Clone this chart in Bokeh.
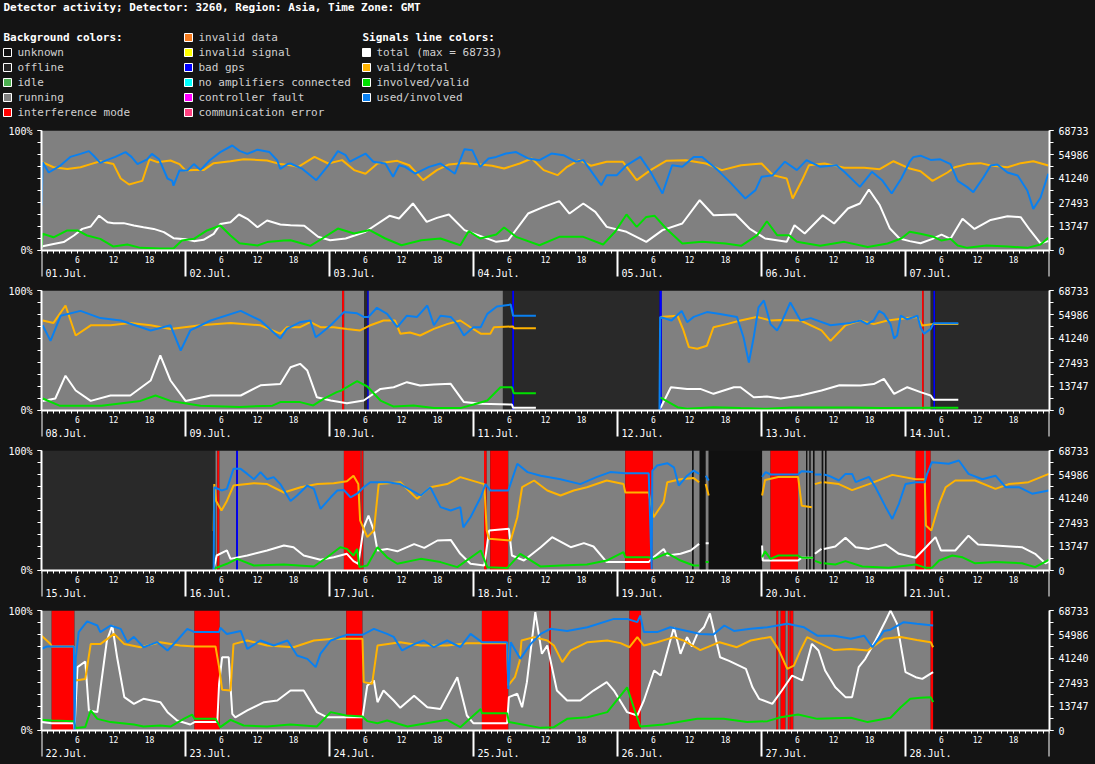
import math
from bokeh.plotting import figure
from bokeh.layouts import column
from bokeh.models import Range1d, LinearAxis, FixedTicker
from bokeh.embed import file_html
from bokeh.resources import INLINE
from bokeh.core.properties import value

# ---------------------------------------------------------------- data
TITLE = "Detector activity; Detector: 3260, Region: Asia, Time Zone: GMT"
TOTAL_MAX = 68733
total_ticks = [0, 13747, 27493, 41240, 54986, 68733]
hour_labels = [6, 12, 18]
panel_days = [
    ["01.Jul.", "02.Jul.", "03.Jul.", "04.Jul.", "05.Jul.", "06.Jul.", "07.Jul."],
    ["08.Jul.", "09.Jul.", "10.Jul.", "11.Jul.", "12.Jul.", "13.Jul.", "14.Jul."],
    ["15.Jul.", "16.Jul.", "17.Jul.", "18.Jul.", "19.Jul.", "20.Jul.", "21.Jul."],
    ["22.Jul.", "23.Jul.", "24.Jul.", "25.Jul.", "26.Jul.", "27.Jul.", "28.Jul."],
]

bg_legend = ["unknown", "offline", "idle", "running", "interference mode",
             "invalid data", "invalid signal", "bad gps", "no amplifiers connected",
             "controller fault", "communication error"]
bg_legend_colors = ["#111111", "#262626", "#4caf50", "#808080", "#ff0000",
                    "#f57c1f", "#ffff00", "#0000ff", "#00ffff", "#ff00ff", "#ff4081"]
line_legend = ["total (max = 68733)", "valid/total", "involved/valid", "used/involved"]
line_colors = ["#ffffff", "#ffb300", "#00e000", "#0a80f0"]

# background states per panel: start hour, end hour, state
p1_bg_start = [0]
p1_bg_end = [168]
p1_bg_state = ["running"]

p2_bg_start = [0, 50.1, 50.45, 53.8, 54.3, 54.55, 76.9, 78.45, 78.75, 103.0, 103.4, 146.75, 147.05, 148.2, 148.65, 148.95]
p2_bg_end = [50.1, 50.45, 53.8, 54.3, 54.55, 76.9, 78.45, 78.75, 103.0, 103.4, 146.75, 147.05, 148.2, 148.65, 148.95, 168]
p2_bg_state = ["running", "interference mode", "running", "offline", "bad gps", "running", "offline", "bad gps",
               "offline", "bad gps", "running", "interference mode", "running", "offline", "bad gps", "offline"]

p3_bg_start = [0, 29.0, 29.3, 29.65, 32.45, 32.75, 50.4, 53.2, 53.35, 53.65, 73.75, 74.2, 74.8, 77.8, 97.3, 101.9,
               108.45, 108.7, 109.7, 110.7, 111.2, 120.1, 121.5, 126.1, 127.45, 127.65, 128.0, 128.2, 128.6,
               128.85, 130.05, 130.3, 130.6, 130.85, 145.7, 147.1, 147.4, 148.2]
p3_bg_end = [29.0, 29.3, 29.65, 32.45, 32.75, 50.4, 53.2, 53.35, 53.65, 73.75, 74.2, 74.8, 77.8, 97.3, 101.9, 108.45,
             108.7, 109.7, 110.7, 111.2, 120.1, 121.5, 126.1, 127.45, 127.65, 128.0, 128.2, 128.6, 128.85,
             130.05, 130.3, 130.6, 130.85, 145.7, 147.1, 147.4, 148.2, 168]
p3_bg_state = ["offline", "running", "interference mode", "running", "bad gps", "running", "interference mode",
               "running", "interference mode", "running", "interference mode", "running", "interference mode",
               "running", "interference mode", "running", "unknown", "running", "unknown", "running", "unknown",
               "running", "interference mode", "running", "unknown", "running", "unknown", "running", "unknown",
               "running", "unknown", "running", "unknown", "running", "interference mode", "running",
               "interference mode", "running"]

p4_bg_start = [0, 1.7, 5.5, 25.5, 29.7, 50.8, 53.5, 73.4, 77.8, 84.65, 84.9, 98.0, 99.9, 122.5, 122.8, 123.2,
               124.0, 124.4, 124.7, 124.8, 125.3, 148.2]
p4_bg_end = [1.7, 5.5, 25.5, 29.7, 50.8, 53.5, 73.4, 77.8, 84.65, 84.9, 98.0, 99.9, 122.5, 122.8, 123.2, 124.0,
             124.4, 124.7, 124.8, 125.3, 148.2, 148.6]
p4_bg_state = ["running", "interference mode", "running", "interference mode", "running", "interference mode",
               "running", "interference mode", "running", "interference mode", "running", "interference mode",
               "running", "interference mode", "running", "interference mode", "running", "interference mode",
               "running", "interference mode", "running", "interference mode"]

# signal series, (hour, percent) ; total is percent of 68733 ; None = no data
p1_total = [(0, 3.3), (2, 5.5), (3.7, 7), (5.4, 12.5), (6.8, 18), (8.2, 20), (9.6, 29), (11, 23.6), (12, 22.8),
            (13.7, 22.8), (15.4, 20.8), (17, 19.4), (18.7, 18), (20.4, 15.3), (22, 10.3), (24, 9.4), (25.4, 7.8),
            (27, 8.9), (28.7, 13.9), (29.8, 22), (31.5, 23.6), (32.9, 30), (34.3, 26.4), (36, 19.4), (37.6, 25),
            (39.8, 21.7), (41.5, 21), (43.8, 20.6), (46.1, 11.4), (48.1, 8.6), (50.7, 10), (54, 15.6), (58, 28.9),
            (59.6, 26.7), (61.9, 39.2), (64.2, 23.9), (65.9, 27.2), (67.9, 30), (70.5, 17), (73.1, 12.2),
            (75.8, 7.2), (77.8, 8.6), (81.1, 30.8), (83.7, 36.4), (86.3, 41.1), (88, 30.8), (90.3, 39.2),
            (92.3, 32.2), (94.2, 19.7), (97.5, 15.6), (100.8, 7.2), (103.5, 17), (106.8, 22.5), (109.7, 41.9),
            (112, 29.4), (115.7, 30), (118, 18.3), (120.6, 10), (124.2, 7.2), (125.5, 21), (127.2, 14.2),
            (130.2, 29.4), (132.1, 22.5), (134.4, 35), (136.4, 39.2), (137.9, 50.8), (139.7, 37.8), (141.4, 18.3),
            (143, 10), (144.7, 7.8), (146.5, 6), (148.5, 9.7), (150, 13.3), (151.5, 9.7), (153.5, 26.4),
            (155.5, 18), (158.2, 25.5), (161, 28.6), (163.2, 27.8), (164.8, 16.7), (166.5, 6), (167.8, 7.8)]
p1_valid_total = [(0.1, 73.6), (2, 69.4), (4.3, 68), (6.5, 69.4), (8.2, 72), (9.8, 74.4), (12, 72), (13.2, 60),
                  (14.6, 55), (16, 57), (16.8, 58), (18, 76), (19.3, 73.6), (21.5, 75), (23, 72), (24, 66.7),
                  (25.4, 67), (27, 67), (28.7, 72.8), (31.5, 74.4), (33.7, 76), (36, 75.5), (37.6, 75),
                  (39.8, 72), (41.5, 71), (42.8, 69.7), (45.5, 78), (47.8, 72.5), (50.1, 75.3), (52.1, 67),
                  (54, 64), (56, 72.5), (59.3, 74.7), (61.3, 71), (63.6, 58.6), (65.9, 67), (67.9, 71.7),
                  (70.5, 73), (73.1, 71.7), (75.1, 70.6), (77.1, 68.3), (79.7, 72.5), (81.7, 76.7), (83.7, 67),
                  (86, 62.8), (87.6, 69.7), (89.6, 75.3), (91.6, 70.6), (94.2, 73.9), (96.9, 73.9), (99.2, 58.6),
                  (101.5, 67), (104.1, 74.7), (107.4, 75.3), (110.7, 72.5), (113.4, 67), (116.6, 71), (120, 72.5),
                  (121.9, 62.8), (124.2, 60), (125.2, 43.3), (126.9, 60), (127.9, 71), (130.5, 72.5),
                  (133.8, 68.9), (137.1, 68.9), (139.7, 67.8), (142, 74.4), (144.7, 68.3), (146.5, 66),
                  (148.5, 58), (151, 65), (152.2, 69.4), (154.3, 72), (156.5, 72.8), (158.2, 70.8), (161, 69.4),
                  (163.2, 72.8), (165.3, 74.4), (167.8, 70.8)]
p1_involved_valid = [(0, 3), (0.2, 14), (2, 11), (4.3, 16.7), (6, 16.7), (7.6, 12.5), (9.8, 9.7), (12, 3.3),
                     (14.3, 5), (16.5, 2.2), (19.8, 1.7), (22, 1.7), (23.4, 8.3), (25.4, 9.7), (27.6, 16.7),
                     (29.8, 20.8), (31.5, 12.5), (33, 6), (36, 4.2), (37.6, 7), (40.4, 8.3), (41.5, 8.6),
                     (44.8, 3.9), (46.8, 10), (49.4, 18.3), (52.1, 14.2), (54.7, 17), (57.3, 10), (60, 4.4),
                     (63.3, 8.6), (66.5, 10), (69.8, 4.4), (71.2, 16.1), (73.1, 10), (75.8, 13.3), (77.1, 19.2),
                     (79.1, 11.4), (83, 4.4), (86.3, 11.4), (90.3, 11.4), (93.6, 5), (95.6, 15.6), (97.5, 30),
                     (99.2, 19.7), (100.8, 28), (102.2, 28.9), (104.1, 18.3), (106.8, 5.8), (110.1, 7.2),
                     (114, 5.8), (116.6, 3.9), (119.3, 12.8), (120.9, 24.4), (122.6, 12.8), (124.6, 12.8),
                     (125.9, 7.2), (129.8, 3.9), (133.8, 7.2), (137.7, 3), (141, 5.8), (143.3, 10), (144.7, 15.6),
                     (146.5, 13.9), (148.5, 11.7), (150, 8.3), (151.5, 9.7), (152.7, 4.2), (154.3, 2.2),
                     (157.5, 4.2), (161, 3.3), (164.3, 2.2), (166.5, 5), (167.8, 10.6)]
p1_used_involved = [(0, 37.5), (0.2, 73.6), (1.2, 65), (3.2, 71), (4.8, 78), (6.5, 80.5), (7.9, 82.8), (8.7, 79),
                    (9.8, 73), (11, 75.5), (12.3, 78), (14, 82), (15, 78), (16, 72), (17.6, 76), (18.4, 80.5),
                    (19.6, 76), (21, 60), (21.8, 58), (22, 54), (23, 66.7), (24.3, 66.7), (25.4, 72), (26.5, 67),
                    (28, 75), (29.8, 82), (31.8, 87.5), (33, 83), (34.3, 80.5), (36, 84), (38, 82), (39.3, 75),
                    (39.8, 68), (41, 72), (41.5, 72.5), (43.5, 68), (45.8, 58.6), (47.8, 71), (49.4, 82.8),
                    (50.7, 79.4), (51.4, 74), (54, 80.8), (55.3, 74), (57.3, 72.5), (58.6, 61.4), (59.6, 71),
                    (60.6, 69.7), (62.3, 64), (64.6, 69.7), (66.5, 72.5), (68.9, 64), (70.5, 84.4), (71.8, 83.6),
                    (73.1, 69.7), (74.5, 76.7), (75.8, 78), (77.4, 80.8), (79.1, 82), (81.1, 76.7), (83, 75.3),
                    (85, 80.8), (87, 79.4), (89, 74), (90.3, 75.3), (92.3, 61.4), (93.3, 54.4), (94.2, 62.8),
                    (95.9, 62.8), (97.5, 71), (99.8, 78), (101.5, 65.6), (103.5, 47.5), (105.1, 71), (106.8, 69.7),
                    (108.7, 78), (110.1, 78), (112.7, 67), (114.7, 57.2), (117.3, 43.3), (119, 50.3), (120, 61.4),
                    (121.9, 62.8), (123.9, 74), (125.9, 67), (127.5, 75.3), (129.8, 69.7), (132.5, 71),
                    (133.8, 65.6), (136.4, 53), (138.4, 65.6), (140.1, 58.6), (141.7, 47.5), (143.3, 60),
                    (144.7, 74), (145.3, 77.8), (146.5, 79), (148.2, 75.5), (149.8, 76), (151.5, 72), (152.7, 58),
                    (154.3, 52.8), (155.3, 48.6), (157, 61), (158.2, 70.8), (159.3, 71.7), (161, 65), (162.7, 62.5),
                    (164.3, 50), (165.3, 34.7), (166.5, 44), (167.8, 64)]

p2_total = [(0.2, 8), (2.3, 10), (4, 29), (5.7, 16.7), (8.2, 8), (11.5, 12.5), (14.8, 12.5), (18.2, 25), (19.8, 46),
            (21.5, 25), (24, 8), (28.2, 12.5), (33.2, 12.5), (36.5, 21), (39.8, 22), (41.5, 36), (43.1, 38.9),
            (44.3, 33.3), (45.9, 11), (48.2, 8.3), (50.9, 6), (53.7, 8.3), (56.5, 18), (58.7, 19.4), (60.9, 23.6),
            (63.1, 20.8), (65.4, 21.7), (68.2, 22.2), (70.4, 7), (73.2, 5.6), (78.4, 5), (78.6, 2.2), (82.4, 2.2),
            (83, None), (103.1, 1.4), (104.9, 19.4), (107.6, 18), (109.8, 18), (112, 13.9), (115.4, 19.4),
            (116.5, 19.4), (118.7, 11), (120.9, 11.7), (123.2, 10), (126.5, 12.5), (130, 16.7), (133, 21),
            (136.5, 20.8), (138.7, 22), (140.4, 26.4), (142.1, 13.9), (144.3, 19.4), (146.5, 15.3),
            (148.2, 12.5), (148.7, 8.9), (152.8, 8.9)]
p2_valid_total = [(0.2, 75), (2, 73), (4, 87.5), (5.7, 62.5), (8.2, 71), (11.5, 71), (14.8, 73), (18.2, 71),
                  (21.5, 68), (26.5, 71), (31.5, 73), (36.5, 71), (39.8, 64), (40.9, 69.4), (43.1, 69.4),
                  (44.8, 73.6), (46.5, 69.4), (48.7, 69.4), (50.9, 68), (53.1, 66.7), (54.7, 70.8), (57, 75),
                  (58.9, 75), (59.8, 64), (61.4, 65), (63.1, 62.5), (65.4, 68), (67.6, 72), (69.8, 75),
                  (71.5, 69.4), (73.2, 64), (74.8, 64), (75.4, 69.4), (78.6, 70), (78.7, 68.6), (82.4, 68.6),
                  (83, None), (103.1, 78), (106, 79), (107, 66.7), (107.9, 52.8), (109.3, 51.4), (110.9, 54),
                  (112, 69.4), (114.2, 72), (116.5, 75), (119.2, 78), (121.5, 75), (123.2, 75.5), (126.5, 75),
                  (130, 66.7), (131.5, 58), (134, 71), (136.5, 75), (138.7, 72), (141, 75), (144.3, 77), (146, 78),
                  (146.8, 70.8), (148.7, 72), (152.8, 72)]
p2_involved_valid = [(0.2, 10), (3, 4), (10, 4), (16.5, 8), (19, 12.5), (21.5, 8), (26.5, 4), (33, 3),
                     (38.5, 4), (39.8, 7), (43.1, 7), (45.3, 4.2), (47, 9.7), (49.2, 15.3), (50, 16.7),
                     (52.6, 24.4), (54.3, 20), (56.5, 8.3), (58.7, 3.3), (62, 4.2), (65.4, 2), (69.8, 2), (72, 5),
                     (74.3, 8.3), (76.5, 19.4), (78.4, 19.4), (78.7, 14.4), (82.4, 14.4), (83, None),
                     (103.1, 11), (106, 2.8), (107.6, 1.4), (112, 2.8), (116.5, 2), (121, 1.4), (125, 2.5),
                     (135, 2.5), (140, 2), (148.7, 2.2), (152.8, 2.2)]
p2_used_involved = [(0.2, 71), (1.5, 58), (3.2, 79), (6.5, 83), (9.8, 77), (13.2, 75), (18.2, 66.7), (21.5, 71),
                    (23.2, 50), (24.8, 66.7), (28.2, 75), (33.2, 83), (36.5, 75), (39.8, 60), (40.9, 68),
                    (43.1, 73.6), (44.8, 75), (45.7, 61), (46.5, 64), (48.2, 71), (50.4, 82), (52.6, 81),
                    (53.7, 78), (54.5, 78), (55.9, 85.6), (57.6, 80.5), (59.3, 69.4), (60.9, 79), (62.6, 78),
                    (64.3, 87.5), (65.4, 71), (66.5, 79), (68.2, 78), (69.3, 72), (70.4, 62.5), (72, 69.4),
                    (73.2, 69.4), (74.3, 80.5), (75.9, 86.7), (78.2, 88.3), (78.6, 79), (82.4, 79), (83, None),
                    (103.0, 0), (103.1, 78), (105, 75), (106.7, 83), (107.6, 73.6), (108.7, 78), (110.9, 82),
                    (113.1, 80.5), (115.9, 78), (117, 61), (117.9, 40), (118.7, 61), (119.5, 86), (120.4, 91.7),
                    (121.5, 72), (122.6, 66.7), (123.2, 72), (124.8, 90), (126.5, 75), (128.2, 77), (131.5, 71),
                    (134.8, 73), (136.5, 75), (137.6, 72), (138.7, 75), (139.6, 83), (140.4, 80.5), (141.5, 72),
                    (142.1, 60), (142.6, 62.5), (143.2, 79), (144.3, 76), (146, 79), (146.5, 69.4), (147.1, 64),
                    (148.2, 68), (148.7, 72.8), (152.8, 72.8)]

p3_total = [(28.7, 1.4), (29.2, 12.5), (30.9, 16.7), (31.5, 9.7), (34.3, 12.5), (37.6, 16.7), (40.4, 20.8),
            (42, 19.4), (43.7, 12.5), (46.5, 8.9), (48.7, 11), (50.9, 13.9), (52, 7.8), (52.8, 5.6), (53.7, 36),
            (54.5, 45.8), (55.4, 33.3), (56, 16.7), (57.6, 18), (59.3, 16), (62.1, 22), (63.8, 18.9), (66, 25),
            (68.2, 25.5), (69.8, 13.9), (71.5, 5.6), (73.8, 4.2), (74.6, 33.3), (77.9, 34.7), (78.4, 12.5),
            (80.4, 8.3), (83.2, 19.4), (85.1, 27.8), (88.2, 19.4), (90.4, 22.8), (92, 20), (94.2, 7), (97.3, 7),
            (101.2, 7), (102, 11), (103.7, 18), (104.3, 12.5), (106.5, 13.9), (108.2, 16.7), (109.6, 22.2),
            (110.1, None), (110.7, 22.8), (111.2, 22.8), (115, None), (120.1, 20.8), (120.2, 8.3), (126.1, 8.3),
            (126.7, 10.6), (128.6, 10.6), (128.75, None), (128.9, 13.9), (130, 18), (130.2, None), (130.4, 18),
            (132.3, 20), (134, 27.2), (135.7, 19.4), (137.9, 18), (140.7, 21.7), (142.9, 13.9), (145.7, 10.6),
            (147.4, 19.4), (149, 27.8), (149.9, 16.7), (152.3, 16.7), (154.5, 29), (156.1, 21.7), (159, 20.8),
            (163.4, 19.4), (165.6, 13.9), (167.3, 6), (168, 7.8)]
p3_valid_total = [(28.7, 33), (28.8, 72), (29.1, 58), (30, 50), (30.9, 58), (32, 70.8), (35.4, 72.8), (37.6, 72),
                  (40.4, 65), (43.2, 69.4), (46, 72), (48.7, 72.8), (50.9, 74.4), (52, 79), (52.8, 72),
                  (53.1, 41.7), (54.3, 27.8), (55.4, 33.3), (56.2, 72), (59.8, 73.6), (62.6, 59.7), (64.8, 69.4),
                  (67.6, 72), (69.8, 77.8), (73.2, 72.8), (73.8, 72), (74.2, 33.3), (74.6, 26.4), (78.2, 25),
                  (79.3, 44.4), (80.1, 69.4), (82.1, 75), (84.3, 66.7), (86.5, 62.5), (88.7, 66.7), (90.9, 69.4),
                  (94.2, 75), (97, 72), (97.3, 65), (101.2, 65), (102, 44.4), (103.7, 57), (104.3, 73.6),
                  (106.5, 76), (108.7, 77), (109.6, 73.6), (110.1, None), (110.7, 72), (111.2, 62.5), (115, None),
                  (120.1, 62.5), (120.6, 75.5), (122.8, 78), (126.1, 78), (126.7, 54), (128.4, 52.8),
                  (128.75, None), (128.9, 72), (130, 73.6), (130.2, None), (130.4, 73.6), (132.9, 72), (135.1, 67),
                  (137.9, 72), (141.8, 79.7), (145.7, 76), (147.2, 76), (147.4, 37.5), (148.3, 33.3),
                  (149.6, 55.6), (150.7, 69.4), (152.3, 75), (155.6, 75), (159, 68), (161.2, 72), (164.5, 73.6),
                  (167.9, 80.5)]
p3_involved_valid = [(28.7, 1.4), (30.9, 5.6), (32.6, 9.7), (35.4, 4.2), (40.4, 5), (45.4, 3.3), (47.6, 11),
                     (49.8, 19.4), (50.9, 18), (52, 12.5), (52.6, 18), (53, 2.8), (54.3, 4.2), (56, 19.4),
                     (57.6, 11), (59.3, 5.6), (63.2, 9.7), (66.5, 7), (69.3, 2.8), (73.2, 16.7), (74.3, 2.8),
                     (77.6, 2), (79.8, 13.9), (83.2, 3.3), (86.5, 4.2), (90.9, 5), (94.2, 8.3), (97, 15.3),
                     (97.3, 11), (101.2, 11), (102, 9.7), (104.3, 14.4), (106.5, 8.3), (108.7, 4.2), (109.6, 4.2),
                     (110.1, None), (110.7, 7), (111.2, 7), (115, None), (120.1, 11), (120.6, 16), (121.5, 9.7),
                     (122.8, 12.5), (126.1, 12.5), (126.7, 10.6), (128.6, 10.6), (128.75, None), (128.9, 8),
                     (130, 6), (130.2, None), (130.4, 6), (132.3, 5), (134, 7.8), (136.8, 3.3), (141.2, 2.2),
                     (145.7, 5), (147.4, 2.2), (148.4, 2.2), (149.6, 8.3), (151.8, 12.5), (153.5, 11),
                     (155.6, 6), (159, 7), (163.4, 6), (165.6, 2.8), (167.9, 8.9)]
p3_used_involved = [(28.7, 0), (28.8, 69.4), (30, 66.7), (30.9, 68), (32, 84.7), (33.2, 84.7), (34.3, 80.5),
                    (35.4, 76), (36.5, 82), (37.6, 76), (38.7, 77.8), (39.8, 72), (41.5, 58), (42.6, 62.5),
                    (44.3, 70.8), (45.4, 68), (46.5, 51.4), (48.2, 61), (49.3, 66.7), (50.4, 67), (51.5, 61),
                    (52.6, 64), (53.7, 69.4), (54.8, 73.6), (57.6, 73.6), (59.8, 72), (63.2, 62.5), (64.8, 69.4),
                    (66.5, 52.8), (68.2, 50), (69.8, 52.8), (70.3, 36), (71.5, 44.4), (73.2, 61), (74, 72),
                    (74.8, 66.7), (77.8, 66.7), (79.3, 88.9), (81, 82), (83.2, 79), (86.5, 76), (89.8, 72),
                    (92.6, 78), (94.8, 82), (97.3, 81), (101.2, 81), (101.7, 1), (101.8, 83), (102.6, 87.5),
                    (104.3, 89.4), (105.4, 86), (106.2, 70.8), (107.6, 79), (108.7, 83.3), (109.6, 80.5),
                    (110.1, None), (110.7, 79), (111.2, 75), (115, None), (120.1, 78), (120.7, 82), (121.5, 80),
                    (126.1, 80), (126.7, 82.8), (128.6, 82), (128.75, None), (128.9, 80), (130, 80),
                    (130.2, None), (130.4, 80), (131.2, 79), (132.9, 75), (134, 80.5), (135.1, 80.5),
                    (135.7, 73.6), (137.9, 78), (139, 69.4), (140.7, 52.8), (141.8, 43), (142.9, 55.6),
                    (144, 72), (145.7, 73.6), (147.2, 73.6), (147.6, 80.5), (148.4, 90.3), (151.2, 88.9),
                    (152.9, 91.7), (154.5, 80.5), (156.8, 76), (159, 79), (160.7, 69.4), (162.9, 69.4),
                    (165.1, 64), (167.9, 66.7)]

p4_total = [(0, 7), (1.7, 6.1), (5.4, 6.1), (5.5, 1.4), (6, 52.8), (7.3, 57.5), (7.9, 16.7), (9.3, 15.3),
            (10.9, 75), (11.8, 87.5), (12.6, 61), (13.8, 27.8), (15.4, 22.2), (17, 26.4), (19.8, 23.6), (21, 15.3),
            (22.6, 8.3), (24.8, 5), (25.5, 7), (29.3, 7), (29.6, 38.9), (30.1, 61), (31.2, 61), (31.8, 13.9),
            (32.3, 11), (34.3, 16.7), (37.1, 23.6), (39.3, 25), (41.5, 33.3), (43.7, 33.3), (45.9, 15.3),
            (47.6, 11), (53.5, 11), (54.3, 37.5), (55.4, 41.7), (56, 23.6), (57, 33.3), (58.7, 25), (59.8, 18.9),
            (62.1, 29), (64.3, 19.4), (66.5, 18), (69.3, 44.4), (70.9, 12.5), (72, 6), (77.6, 6), (77.9, 27.8),
            (79.3, 30.6), (80.1, 19.4), (80.9, 40.3), (82.3, 98.6), (83.4, 63.9), (84.3, 70.8), (85.9, 33.3),
            (87.6, 25), (89.8, 25), (92, 33.3), (94.2, 40.3), (95.4, 33.3), (97.6, 15.3), (99.3, 12.5),
            (100.4, 25), (102.1, 50), (103.2, 45.8), (105.4, 86), (106.5, 63.9), (107.6, 77.8), (108.4, 70),
            (109.3, 80.5), (110.4, 86), (111.4, 97.5), (113.1, 61), (114.6, 58), (117.4, 51.4), (118.5, 36),
            (119.6, 26.4), (121.8, 22.2), (123.4, 33.3), (125.1, 45.8), (126.8, 41.7), (128.4, 72.2),
            (129.5, 66.7), (130.6, 50), (132.3, 36), (134, 27.8), (135.1, 27.8), (136.2, 52.8), (137.3, 59.7),
            (139, 75), (140.7, 91.7), (141.5, 100), (142.6, 88.9), (144, 48.6), (145.7, 44.4), (146.8, 43),
            (148.6, 48.6)]
p4_valid_total = [(0, 79), (1.5, 72), (1.7, 70), (5.4, 70), (5.7, 41.7), (7.3, 43), (8.2, 72), (9.8, 72),
                  (12.1, 80.5), (13.8, 72), (16.5, 69.4), (19.8, 73.6), (23.1, 70.8), (25.5, 70), (29, 70),
                  (29.6, 52.8), (30.1, 34), (31.5, 33.3), (32, 72), (34.3, 75), (37.6, 70.8), (42, 69.4),
                  (45.4, 75), (48.7, 76.4), (53.5, 76.4), (53.7, 40.3), (55.1, 38.9), (56, 70.8), (59.8, 73.6),
                  (63.2, 70.8), (67.6, 70.8), (70.9, 72.8), (77.6, 72.8), (77.8, 37.5), (78.9, 44.4), (79.7, 58),
                  (80, 75), (82.1, 77.8), (84.3, 75), (85.4, 70.8), (86.8, 57), (88.2, 66.7), (91, 73.6),
                  (94.3, 75), (96.5, 72.8), (98, 69.4), (99.3, 77.8), (100.4, 70.8), (102.6, 73.6), (105.4, 77.8),
                  (107, 75), (109.8, 67), (113, 73.6), (115.9, 69.4), (118.2, 75), (121.5, 78), (122.9, 67),
                  (124.3, 51.4), (125.4, 54), (126.5, 66.7), (127.6, 77.8), (129.3, 73.6), (132.1, 67),
                  (134.9, 68), (137.7, 66.7), (140.4, 76.4), (143.2, 78), (145.9, 75.5), (148.2, 73.6),
                  (148.6, 69.4)]
p4_involved_valid = [(0, 8.9), (1.7, 8.3), (5.4, 7.8), (5.7, 2), (7.3, 3), (8.2, 16.7), (9.3, 9.7), (11.5, 7),
                     (15.4, 5), (17, 3.3), (19.8, 4.2), (21.5, 3.3), (23.7, 9.7), (25.1, 13.3), (25.5, 9.7),
                     (29, 9.7), (29.8, 2.8), (31.5, 8.9), (33.7, 4.2), (37.6, 3.3), (41.5, 5), (45.9, 3.3),
                     (48.2, 15.3), (50.8, 12.5), (53.5, 11.7), (54.3, 7.8), (56, 6), (57.6, 8.3), (61, 3.3),
                     (67.6, 8.9), (69.8, 2.8), (73.2, 18), (73.4, 14.4), (77.6, 14.4), (77.9, 7), (83.2, 2.2),
                     (85.4, 2.8), (87.6, 9.7), (91, 11), (94.3, 15.3), (97.6, 36), (98.7, 19.4), (99.8, 3.3),
                     (103.7, 5), (109.3, 9.7), (113.7, 9.7), (117.6, 7), (121, 7.8), (123.2, 11), (126.1, 13.3),
                     (129.3, 9.7), (134.9, 10.6), (137.7, 7), (141.5, 10.6), (143.2, 19.4), (144.8, 26.4),
                     (146.5, 27.2), (148.2, 27.8), (148.6, 23.6)]
p4_used_involved = [(0, 68), (0.9, 70), (1.7, 70), (5.4, 70), (5.5, 0), (5.7, 60), (6.2, 82), (7.6, 91),
                    (9.3, 87.5), (9.8, 82), (11.5, 87.5), (13.2, 84.7), (14.3, 73.6), (15.4, 78), (17, 69.4),
                    (19.3, 73.6), (21, 66.7), (22.6, 75), (24.3, 84.7), (25.5, 82), (29.6, 82), (29.8, 85.6),
                    (30.9, 80.5), (33.2, 83), (34.3, 68), (36.5, 75), (38.7, 70.8), (41, 75), (42.6, 62.5),
                    (44.3, 59.7), (45.7, 52.8), (46.5, 64), (48.2, 75), (50.8, 79.7), (53.5, 79.7), (55.4, 84.7),
                    (57.6, 80.5), (58.7, 78), (60.1, 66.7), (62.1, 72), (63.7, 75), (65.4, 69.4), (67.6, 75),
                    (69.8, 69.4), (71.5, 80.5), (73.4, 73.6), (77.6, 73.6), (77.8, 34.7), (78.2, 73.6),
                    (79.8, 59.7), (81.5, 72), (83.2, 80.5), (84.8, 84.7), (87.6, 83), (91, 86), (95.4, 93),
                    (97.6, 93), (99.3, 90.3), (99.8, 95.8), (100.4, 82), (102.6, 82), (104.8, 86), (107.6, 83),
                    (109.8, 80.5), (112, 80), (113.8, 87.5), (115.4, 83), (118.2, 84.7), (121, 86), (124.3, 88.9),
                    (127.1, 86), (129.3, 79), (132.1, 79), (134.9, 76.4), (137.1, 79), (138.5, 69.4),
                    (140.4, 83), (141.5, 84), (143.7, 90.3), (145.9, 88.9), (148.6, 87.5)]

# ---------------------------------------------------------------- styling
BG = "#141414"
FONT = "DejaVu Sans Mono"
PX = 1.2  # pixels per percent unit inside a panel
state_color = {"running": "#808080", "interference mode": "#ff0000", "offline": "#292929",
               "unknown": "#101010", "bad gps": "#0000ff", "idle": "#4caf50"}


def split(series):
    xs = [h for h, v in series]
    ys = [float("nan") if v is None else v for h, v in series]
    return xs, ys


def make_panel(days, bg_start, bg_end, bg_state, series, below_px):
    frame_h = 120 + below_px
    y_low = -below_px / PX
    p = figure(width=1095, height=5 + frame_h,
               x_range=Range1d(0, 168), y_range=Range1d(y_low, 100),
               output_backend="svg", toolbar_location=None,
               min_border_left=41, min_border_right=46, min_border_top=5, min_border_bottom=0,
               background_fill_color=BG, border_fill_color=BG, outline_line_color=None,
               x_axis_type=None, y_axis_type=None)
    p.extra_y_ranges = {"total": Range1d(y_low * TOTAL_MAX / 100, TOTAL_MAX)}

    p.quad(left=bg_start, right=bg_end, bottom=0, top=100,
           fill_color=[state_color[s] for s in bg_state], line_color=None)

    for s, c in zip(series, line_colors):
        xs, ys = split(s)
        p.line(xs, ys, line_color=c, line_width=2)

    axis_style = dict(axis_line_color="white", axis_line_width=2,
                      major_tick_line_color="white", minor_tick_line_color="white",
                      major_tick_in=0, minor_tick_in=0, major_tick_out=4, minor_tick_out=4,
                      major_label_text_color="white", major_label_text_font=FONT,
                      major_label_text_font_size="10px", major_label_standoff=5)

    ly = LinearAxis(ticker=FixedTicker(ticks=[0, 100], minor_ticks=list(range(0, 101, 10))),
                    major_label_overrides={0: "0%", 100: "100%"}, bounds=(0, 100), **axis_style)
    p.add_layout(ly, "left")

    ry = LinearAxis(y_range_name="total",
                    ticker=FixedTicker(ticks=total_ticks,
                                       minor_ticks=[TOTAL_MAX * k / 10 for k in range(11)]),
                    major_label_overrides={t: str(t) for t in total_ticks},
                    bounds=(0, TOTAL_MAX), **axis_style)
    p.add_layout(ry, "right")

    # time axis (drawn in the panel's own time/percent coordinates, below the 0 line)
    hours = list(range(0, 169))
    day_starts = [24 * d for d in range(len(days) + 1)]
    p.segment(x0=hours, y0=[0] * len(hours), x1=hours, y1=[-3 / PX] * len(hours),
              line_color="white", line_width=1)
    p.segment(x0=day_starts, y0=[0] * len(day_starts), x1=day_starts,
              y1=[-26 / PX] * len(day_starts), line_color="white", line_width=2)
    p.segment(x0=[0], y0=[0], x1=[168], y1=[0], line_color="white", line_width=2)
    hx = [24 * d + hh for d in range(len(days)) for hh in hour_labels]
    ht = [str(hh) for d in range(len(days)) for hh in hour_labels]
    p.text(x=hx, y=[-9 / PX] * len(hx), text=ht, text_align="center", text_baseline="middle",
           text_color="white", text_font=value(FONT), text_font_size="8px")
    p.text(x=day_starts[:-1], y=[-22.5 / PX] * len(days), text=days, x_offset=4,
           text_align="left", text_baseline="middle", text_color="white",
           text_font=value(FONT), text_font_size="10px")
    return p


# ---------------------------------------------------------------- header
hdr = figure(width=1095, height=125, x_range=Range1d(0, 1095), y_range=Range1d(125, 0),
             output_backend="svg", toolbar_location=None, min_border=0,
             background_fill_color=BG, border_fill_color=BG, outline_line_color=None,
             x_axis_type=None, y_axis_type=None)
if "frame_align" in hdr.properties():
    hdr.frame_align = False
hdr.text(x=[3], y=[7], text=[TITLE], text_font=value(FONT), text_font_size="11px",
         text_font_style="bold", text_color="white", text_baseline="middle")
hdr.text(x=[3, 362], y=[37, 37], text=["Background colors:", "Signals line colors:"],
         text_font=value(FONT), text_font_size="11px", text_font_style="bold",
         text_color="white", text_baseline="middle")
rows1 = [52, 67, 82, 97, 112]
rows2 = [37, 52, 67, 82, 97, 112]
sq_x, sq_y, sq_c, tx, ty, tt = [], [], [], [], [], []
for i, (name, c) in enumerate(zip(bg_legend, bg_legend_colors)):
    if i < 5:
        cx, ry_ = 3, rows1[i]
    else:
        cx, ry_ = 184, rows2[i - 5]
    sq_x.append(cx + 4); sq_y.append(ry_); sq_c.append(c)
    tx.append(cx + 14); ty.append(ry_); tt.append(name)
for i, (name, c) in enumerate(zip(line_legend, line_colors)):
    sq_x.append(362 + 4); sq_y.append(rows1[i]); sq_c.append(c)
    tx.append(362 + 14); ty.append(rows1[i]); tt.append(name)
hdr.rect(x=sq_x, y=sq_y, width=8, height=8, fill_color=sq_c, line_color="white", line_width=1)
hdr.text(x=tx, y=ty, text=tt, text_font=value(FONT), text_font_size="11px",
         text_color="#d0d0d0", text_baseline="middle")

panels = [
    make_panel(panel_days[0], p1_bg_start, p1_bg_end, p1_bg_state,
               [p1_total, p1_valid_total, p1_involved_valid, p1_used_involved], 35),
    make_panel(panel_days[1], p2_bg_start, p2_bg_end, p2_bg_state,
               [p2_total, p2_valid_total, p2_involved_valid, p2_used_involved], 35),
    make_panel(panel_days[2], p3_bg_start, p3_bg_end, p3_bg_state,
               [p3_total, p3_valid_total, p3_involved_valid, p3_used_involved], 35),
    make_panel(panel_days[3], p4_bg_start, p4_bg_end, p4_bg_state,
               [p4_total, p4_valid_total, p4_involved_valid, p4_used_involved], 34),
]

layout = column(hdr, *panels, spacing=0, styles={"background-color": BG})
html = file_html(layout, INLINE, title="Detector activity")
html = html.replace("<body>", '<body style="margin:0;background:#141414;">')
open("out.html", "w").write(html)
